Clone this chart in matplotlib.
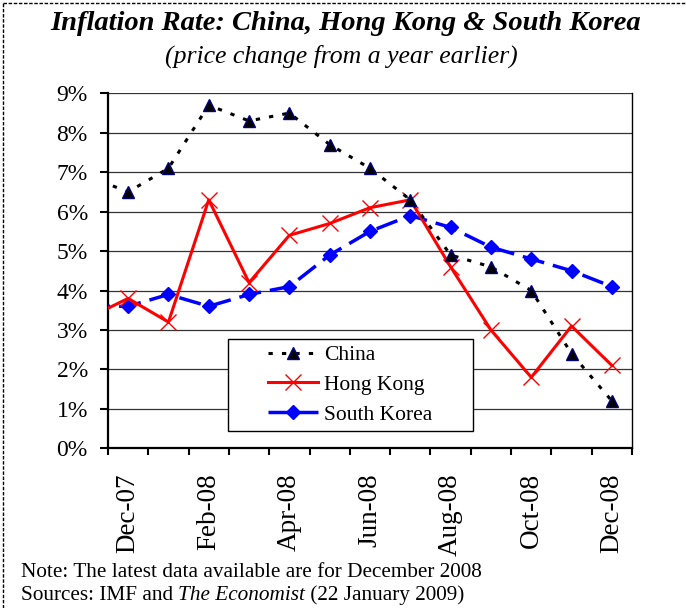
import matplotlib
matplotlib.use("Agg")
import matplotlib.pyplot as plt
from matplotlib.lines import Line2D
from matplotlib.patches import Rectangle
import numpy as np

plt.rcParams['font.family'] = ['Liberation Serif', 'DejaVu Serif']

# monthly inflation, year-on-year (%); Nov-07 sits just left of the axis
months = ["Nov-07", "Dec-07", "Jan-08", "Feb-08", "Mar-08", "Apr-08", "May-08",
          "Jun-08", "Jul-08", "Aug-08", "Sep-08", "Oct-08", "Nov-08", "Dec-08"]
china = [6.9, 6.5, 7.1, 8.7, 8.3, 8.5, 7.7, 7.1, 6.3, 4.9, 4.6, 4.0, 2.4, 1.2]
hong_kong = [3.3, 3.8, 3.2, 6.3, 4.2, 5.4, 5.7, 6.1, 6.3, 4.6, 3.0, 1.8, 3.1, 2.1]
south_korea = [3.6, 3.6, 3.9, 3.6, 3.9, 4.1, 4.9, 5.5, 5.9, 5.6, 5.1, 4.8, 4.5, 4.1]
shown_labels = ["Dec-07", "Feb-08", "Apr-08", "Jun-08", "Aug-08", "Oct-08", "Dec-08"]
y_ticks = list(range(0, 10))

x = np.arange(len(months)) - 1

fig = plt.figure(figsize=(6.86, 6.08), dpi=100)
ax = fig.add_axes([0.1574, 0.2627, 0.7639, 0.5838])

ax.plot(x, south_korea, color='#0000FF', linewidth=2.5, dashes=(6.4, 2.6),
        marker='D', markersize=7, markerfacecolor='#0000FF',
        markeredgecolor='#0000FF', label="South Korea", zorder=3)
ax.plot(x, hong_kong, color='#FF0000', linewidth=2.2,
        marker='x', markersize=12, markeredgewidth=1.0,
        label="Hong Kong", zorder=4)
ax.plot(x, china, color='black', linewidth=2.2, dashes=(1.4, 3.0),
        marker='^', markersize=8, markerfacecolor='black',
        markeredgecolor='#000080', label="China", zorder=5)

ax.set_xlim(-0.5, len(months) - 1.5)
ax.set_ylim(0, 9)

ax.set_yticks(y_ticks)
ax.set_yticklabels([f"{v}%" for v in y_ticks], fontsize=17)
ax.tick_params(axis='y', direction='out', length=6, width=1.5, pad=8.5)

ax.set_xticks(np.arange(-0.5, len(months) - 1, 1.0))
ax.set_xticklabels([])
ax.tick_params(axis='x', which='major', direction='out', length=5, width=1.5)
label_pos = [months.index(m) - 1 for m in shown_labels]
ax.set_xticks(label_pos, minor=True)
ax.set_xticklabels(shown_labels, minor=True, rotation=90, fontsize=19.5,
                   va='top', ha='center')
ax.tick_params(axis='x', which='minor', length=0, pad=18)

ax.grid(axis='y', color='#333333', linewidth=0.9)
ax.set_axisbelow(True)
ax.spines['top'].set_visible(False)
ax.spines['right'].set_linewidth(1.0)
ax.spines['left'].set_linewidth(1.6)
ax.spines['bottom'].set_linewidth(1.6)

# legend box
ax.add_patch(Rectangle((0.229, 0.049), 0.468, 0.259, transform=ax.transAxes,
                       facecolor='white', edgecolor='black', linewidth=1.0,
                       zorder=6))
handles, labels = ax.get_legend_handles_labels()
order = [2, 1, 0]
leg = ax.legend([handles[i] for i in order], [labels[i] for i in order],
                loc='center', bbox_to_anchor=(0.463, 0.1785), frameon=False,
                fontsize=15.5, handlelength=2.3, handletextpad=0.3,
                labelspacing=0.45, borderaxespad=0)
leg.set_zorder(7)

fig.text(0.504, 0.962, "Inflation Rate: China, Hong Kong & South Korea",
         ha='center', va='center', fontsize=20.5, fontweight='bold',
         fontstyle='italic')
fig.text(0.497, 0.908, "(price change from a year earlier)",
         ha='center', va='center', fontsize=18.5, fontstyle='italic')

fig.text(0.030, 0.051, "Note: The latest data available are for December 2008",
         ha='left', va='baseline', fontsize=15.3)
t1 = fig.text(0.030, 0.013, "Sources: IMF and ", ha='left', va='baseline',
              fontsize=15.3)
t2 = ax.annotate("The Economist", xy=(1, 0), xycoords=t1, ha='left',
                 va='bottom', fontsize=15.3, fontstyle='italic',
                 annotation_clip=False)
ax.annotate(" (22 January 2009)", xy=(1, 0), xycoords=t2, ha='left',
            va='bottom', fontsize=15.3, annotation_clip=False)

# dashed page border (top and left edges)
fig.add_artist(Line2D([0.004, 1.0], [0.995, 0.995], transform=fig.transFigure,
                      color='black', linewidth=1.0, dashes=(2.5, 1.2)))
fig.add_artist(Line2D([0.004, 0.004], [0.0, 0.995], transform=fig.transFigure,
                      color='black', linewidth=1.0, dashes=(2.5, 1.2)))

fig.savefig("out.png", dpi=100)
